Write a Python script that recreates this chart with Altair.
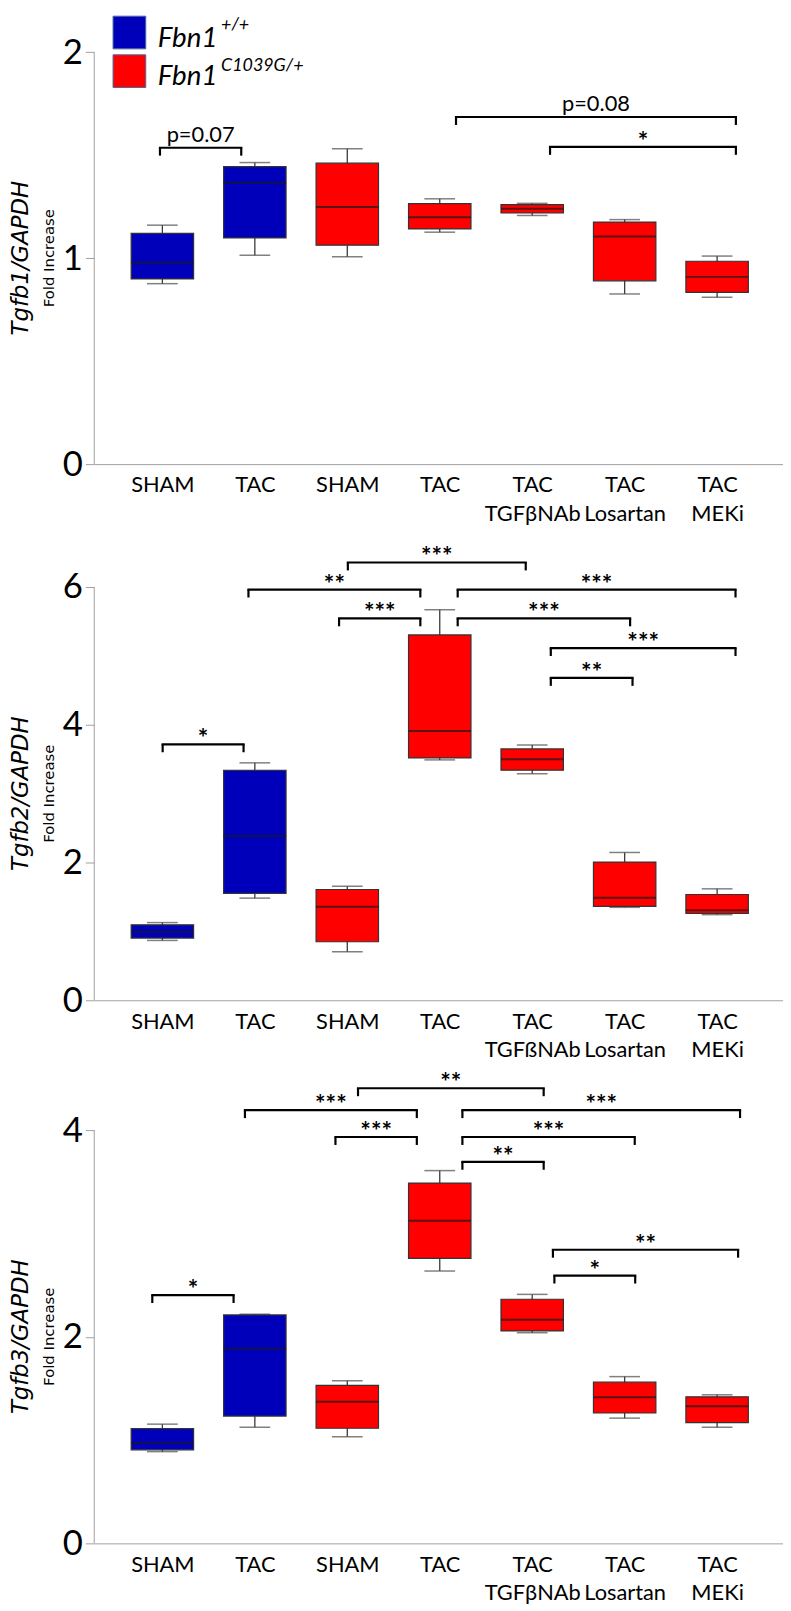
import json
import altair as alt
import pandas as pd

# ---------------- data ----------------
positions = [1, 2, 3, 4, 5, 6, 7]
genotype = ["WT", "WT", "Mut", "Mut", "Mut", "Mut", "Mut"]
labels_1 = ["SHAM", "TAC", "SHAM", "TAC", "TAC|TGFβNAb", "TAC|Losartan", "TAC|MEKi"]
labels_2 = ["SHAM", "TAC", "SHAM", "TAC", "TAC|TGFßNAb", "TAC|Losartan", "TAC|MEKi"]
labels_3 = ["SHAM", "TAC", "SHAM", "TAC", "TAC|TGFβNAb", "TAC|Losartan", "TAC|MEKi"]

# Tgfb1
t1_min = [0.876, 1.014, 1.007, 1.126, 1.207, 0.826, 0.810]
t1_q1 = [0.899, 1.098, 1.063, 1.142, 1.219, 0.890, 0.834]
t1_med = [0.979, 1.366, 1.248, 1.199, 1.240, 1.105, 0.909]
t1_q3 = [1.120, 1.444, 1.461, 1.265, 1.260, 1.175, 0.985]
t1_max = [1.160, 1.464, 1.531, 1.288, 1.266, 1.187, 1.010]

# Tgfb2
t2_min = [0.869, 1.483, 0.706, 3.490, 3.289, 1.349, 1.243]
t2_q1 = [0.903, 1.551, 0.850, 3.519, 3.341, 1.363, 1.263]
t2_med = [0.994, 2.386, 1.359, 3.908, 3.500, 1.488, 1.306]
t2_q3 = [1.095, 3.337, 1.608, 5.305, 3.649, 2.007, 1.536]
t2_max = [1.128, 3.447, 1.656, 5.670, 3.706, 2.146, 1.618]

# Tgfb3
t3_min = [0.888, 1.124, 1.033, 2.636, 2.039, 1.212, 1.124]
t3_q1 = [0.905, 1.232, 1.114, 2.758, 2.056, 1.262, 1.168]
t3_med = [0.972, 1.884, 1.371, 3.122, 2.164, 1.414, 1.327]
t3_q3 = [1.111, 2.211, 1.529, 3.487, 2.363, 1.560, 1.418]
t3_max = [1.154, 2.218, 1.573, 3.608, 2.410, 1.614, 1.438]

# significance brackets
b1_x1 = [0.974, 4.176, 5.193]
b1_x2 = [1.853, 7.203, 7.203]
b1_y = [1.536, 1.685, 1.540]
b1_lab = ["p=0.07", "p=0.08", "*"]

b2_x1 = [1.003, 1.931, 2.911, 3.006, 4.194, 4.194, 5.201, 5.201]
b2_x2 = [1.878, 3.790, 3.790, 4.930, 7.199, 6.059, 7.199, 6.085]
b2_y = [3.716, 5.963, 5.545, 6.356, 5.963, 5.545, 5.113, 4.680]
b2_lab = ["*", "**", "***", "***", "***", "***", "***", "**"]

b3_x1 = [0.891, 1.893, 3.116, 2.872, 4.245, 4.245, 4.245, 5.224, 5.240]
b3_x2 = [1.770, 3.752, 5.124, 3.752, 7.248, 6.109, 5.124, 7.227, 6.114]
b3_y = [2.403, 4.193, 4.405, 3.933, 4.193, 3.933, 3.693, 2.842, 2.592]
b3_lab = ["*", "***", "**", "***", "***", "***", "**", "**", "*"]

# ---------------- style ----------------
BLUE = "#0000BB"
RED = "#FF0000"
GREY = "#a0a0a0"
W = 695
XDOM = [0.3164, 7.659]
LABFONT = "Lato"
TITLEFONT = "DejaVu Sans"


def panel(stats, brk, labels, ticks, ymax, height, gene, legend=False):
    mn, q1, med, q3, mx = stats
    df = pd.DataFrame({"pos": positions, "geno": genotype, "min": mn, "q1": q1,
                       "med": med, "q3": q3, "max": mx})
    bx1, bx2, by, blab = brk
    bdf = pd.DataFrame({"x1": bx1, "x2": bx2, "y": by, "label": blab})

    xs = alt.Scale(domain=XDOM, nice=False, zero=False)
    ys = alt.Scale(domain=[0, ymax], nice=False, zero=True)

    expr = "split(" + json.dumps(labels, ensure_ascii=False) + "[round(datum.value)-1], '|')"
    xaxis = alt.Axis(values=positions, labelExpr=expr, domainColor=GREY, domainWidth=1,
                     ticks=False, grid=False, labelFont=LABFONT, labelFontSize=22,
                     labelColor="black", labelPadding=11, labelLineHeight=29, title=None,
                     labelAngle=0, labelOverlap=False, labelFlush=False)
    yaxis = alt.Axis(values=ticks, domain=False, grid=False, tickColor=GREY, tickSize=9,
                     tickWidth=1, labelFont=LABFONT, labelFontSize=35, labelColor="black",
                     labelPadding=3, title=None)

    def X(f):
        return alt.X(f + ":Q", scale=xs, axis=xaxis)

    def Y(f):
        return alt.Y(f + ":Q", scale=ys, axis=yaxis)

    def YD(v):
        return alt.Y(datum=v, type="quantitative", scale=ys, axis=yaxis)

    base = alt.Chart(df)
    color = alt.Color("geno:N", scale=alt.Scale(domain=["WT", "Mut"], range=[BLUE, RED]),
                      legend=None)

    axis_line = alt.Chart(pd.DataFrame({"a": [0]})).mark_rule(color=GREY, strokeWidth=1).encode(
        x=alt.value(0), y=YD(0), y2=alt.Y2(datum=ticks[-1]))
    whisk = base.mark_rule(color="#3a3a3a", strokeWidth=1.3).encode(
        x=X("pos"), y=Y("min"), y2="max")
    box = base.mark_bar(size=63, stroke="#333333", strokeWidth=1.2).encode(
        x=X("pos"), y=Y("q1"), y2="q3", color=color)
    medl = base.mark_tick(orient="horizontal", size=63, thickness=2, color="#1a1a1a").encode(
        x=X("pos"), y=Y("med"))
    caps = base.transform_fold(["min", "max"], as_=["k", "v"]).mark_tick(
        orient="horizontal", size=31, thickness=1.5, color="#4a4a4a").encode(
        x=X("pos"), y=Y("v"))

    hline = alt.Chart(bdf).mark_rule(color="black", strokeWidth=2.2, strokeCap="square").encode(
        x=X("x1"), x2="x2", y=Y("y"))
    lt = alt.Chart(bdf).mark_rule(color="black", strokeWidth=2.2, y2Offset=8).encode(
        x=X("x1"), y=Y("y"), y2="y")
    rt = alt.Chart(bdf).mark_rule(color="black", strokeWidth=2.2, y2Offset=8).encode(
        x=X("x2"), y=Y("y"), y2="y")
    stars = alt.Chart(bdf).transform_filter("indexof(datum.label, 'p=') < 0").transform_calculate(
        xm="(datum.x1 + datum.x2) / 2").mark_text(
        font=LABFONT, fontSize=25, fontWeight="bold", color="black", dy=3,
        baseline="alphabetic").encode(x=X("xm"), y=Y("y"), text="label:N")
    pvals = alt.Chart(bdf).transform_filter("indexof(datum.label, 'p=') >= 0").transform_calculate(
        xm="(datum.x1 + datum.x2) / 2").mark_text(
        font=LABFONT, fontSize=22, color="black", dy=-6,
        baseline="alphabetic").encode(x=X("xm"), y=Y("y"), text="label:N")

    mid = ticks[-1] / 2
    one = pd.DataFrame({"a": [0]})
    title = alt.Chart(one).mark_text(
        text=gene + "/GAPDH", font=TITLEFONT, fontStyle="italic", fontSize=23, angle=270,
        align="center", baseline="alphabetic", color="black").encode(
        x=alt.value(-67), y=YD(mid))
    fold = alt.Chart(one).mark_text(
        text="Fold Increase", font=TITLEFONT, fontSize=15, angle=270,
        align="center", baseline="alphabetic", color="black").encode(
        x=alt.value(-41), y=YD(mid))

    layers = [axis_line, whisk, caps, box, medl, hline, lt, rt, stars, pvals, title, fold]

    if legend:
        sw1 = alt.Chart(one).mark_rect(fill=BLUE, stroke="#4a6a9a", strokeWidth=1).encode(
            x=alt.value(19), x2=alt.value(52), y=alt.value(0), y2=alt.value(33))
        sw2 = alt.Chart(one).mark_rect(fill=RED, stroke="#4a6a9a", strokeWidth=1).encode(
            x=alt.value(19), x2=alt.value(52), y=alt.value(39), y2=alt.value(72))
        t1 = alt.Chart(one).mark_text(text="Fbn1", font=LABFONT, fontStyle="italic",
                                      fontSize=28, align="left", baseline="alphabetic",
                                      color="black").encode(x=alt.value(64), y=alt.value(31))
        t2 = alt.Chart(one).mark_text(text="Fbn1", font=LABFONT, fontStyle="italic",
                                      fontSize=28, align="left", baseline="alphabetic",
                                      color="black").encode(x=alt.value(64), y=alt.value(69))
        s1 = alt.Chart(one).mark_text(text="+/+", font=LABFONT, fontStyle="italic",
                                      fontSize=18, align="left", baseline="alphabetic",
                                      color="black").encode(x=alt.value(128), y=alt.value(14))
        s2 = alt.Chart(one).mark_text(text="C1039G/+", font=LABFONT, fontStyle="italic",
                                      fontSize=18, align="left", baseline="alphabetic",
                                      color="black").encode(x=alt.value(128), y=alt.value(55))
        edge = alt.Chart(one).mark_rule(color="white", strokeWidth=1).encode(
            x=alt.value(-86), y=alt.value(120), y2=alt.value(140))
        layers += [sw1, sw2, t1, t2, s1, s2, edge]

    return alt.layer(*layers).properties(width=W, height=height)


p1 = panel((t1_min, t1_q1, t1_med, t1_q3, t1_max), (b1_x1, b1_x2, b1_y, b1_lab),
           labels_1, [0, 1, 2], 452 / 207.85, 452, "Tgfb1", legend=True)
p2 = panel((t2_min, t2_q1, t2_med, t2_q3, t2_max), (b2_x1, b2_x2, b2_y, b2_lab),
           labels_2, [0, 2, 4, 6], 471 / 69.5, 471, "Tgfb2")
p3 = panel((t3_min, t3_q1, t3_med, t3_q3, t3_max), (b3_x1, b3_x2, b3_y, b3_lab),
           labels_3, [0, 2, 4], 478 / 104.25, 478, "Tgfb3")

chart = alt.vconcat(p1, p2, p3, spacing=70, bounds="flush").properties(
    padding=0
).configure_view(stroke=None)

chart.save("out.html", embed_options={"renderer": "svg", "actions": False})
